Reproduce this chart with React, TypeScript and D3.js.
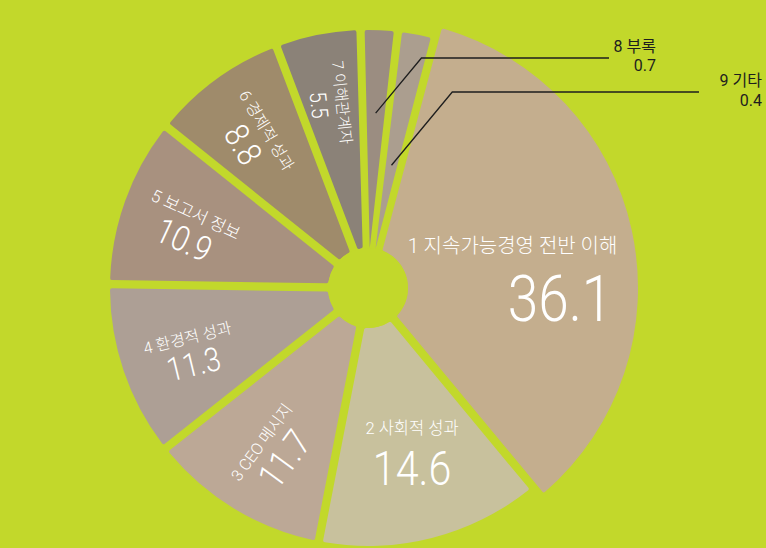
import React from 'react';
import * as d3 from 'd3';

// ---- data ----
const categories = [
  '1 지속가능경영 전반 이해',
  '2 사회적 성과',
  '3 CEO 메시지',
  '4 환경적 성과',
  '5 보고서 정보',
  '6 경제적 성과',
  '7 이해관계자',
  '8 부록',
  '9 기타',
];
const values = [36.1, 14.6, 11.7, 11.3, 10.9, 8.8, 5.5, 0.7, 0.4];
const valueLabels = ['36.1', '14.6', '11.7', '11.3', '10.9', '8.8', '5.5', '0.7', '0.4'];

// ---- styles ----
const sliceColors = ['#c4ae8e', '#c8c19d', '#bca896', '#ad9f95', '#a8917f', '#9f8b6b', '#8b8278', '#9b8d81', '#ab9e8f'];
const titleFontSizes = [20, 16.5, 16, 16, 17, 16, 15.5];
const valueFontSizes = [64, 48, 37, 33, 35, 34, 23];

const W = 766;
const H = 548;
const CX = 368;
const CY = 288;
const R = 258;
const R_MAIN = 270;
const R_INNER = 40;
const START = (15 * Math.PI) / 180;
const MIN_SHARE = 2.4; // display floor so the tiny slices stay visible
const BG = '#c2d82b';
const FONT = "Roboto, 'Noto Sans CJK KR', sans-serif";
const CONDENSE = 0.86;

const toXY = (a: number, r: number): [number, number] => [CX + r * Math.sin(a), CY - r * Math.cos(a)];

export default function App() {
  const pie = d3
    .pie<number>()
    .sort(null)
    .value((v) => Math.max(v, MIN_SHARE))
    .startAngle(START)
    .endAngle(START + 2 * Math.PI);
  const arcs = pie(values);

  const arcGen = d3
    .arc<d3.PieArcDatum<number>>()
    .innerRadius(R_INNER)
    .outerRadius((d) => (d.index === 0 ? R_MAIN : R))
    .padAngle(0.033)
    .padRadius(250)
    .cornerRadius(2);

  const mid = (d: d3.PieArcDatum<number>) => (d.startAngle + d.endAngle) / 2;

  const labels: React.ReactNode[] = [];
  arcs.forEach((d, i) => {
    const m = mid(d);
    if (i === 0) {
      const [px, py] = toXY(m, 200);
      labels.push(
        <g key={'l' + i} fill="#fff" fontFamily={FONT} fontWeight={300}>
          <text x={px + 54} y={py + 8} fontSize={titleFontSizes[i]} textAnchor="end">
            {categories[i]}
          </text>
          <g transform={`translate(${px + 49},${py + 76}) scale(${CONDENSE},1)`}>
            <text x={0} y={0} fontSize={valueFontSizes[i]} textAnchor="end">
              {valueLabels[i]}
            </text>
          </g>
        </g>
      );
    } else if (i === 1) {
      const [px, py] = toXY(m, 178);
      labels.push(
        <g key={'l' + i} fill="#fff" fontFamily={FONT} fontWeight={300}>
          <text x={px} y={py - 26} fontSize={titleFontSizes[i]} textAnchor="middle">
            {categories[i]}
          </text>
          <g transform={`translate(${px},${py + 25}) scale(${CONDENSE},1)`}>
            <text x={0} y={0} fontSize={valueFontSizes[i]} textAnchor="middle">
              {valueLabels[i]}
            </text>
          </g>
        </g>
      );
    } else if (i < 7) {
      const [px, py] = toXY(m, 188);
      const rot = (m * 180) / Math.PI - 265;
      labels.push(
        <g key={'l' + i} transform={`translate(${px},${py}) rotate(${rot})`} fill="#fff" fontFamily={FONT} fontWeight={300}>
          <text x={0} y={-5} fontSize={titleFontSizes[i]} textAnchor="middle">
            {categories[i]}
          </text>
          <g transform={`translate(0,${4 + valueFontSizes[i] * 0.72}) scale(${CONDENSE},1)`}>
            <text x={0} y={0} fontSize={valueFontSizes[i]} textAnchor="middle">
              {valueLabels[i]}
            </text>
          </g>
        </g>
      );
    }
  });

  // leader lines for the two tiny slices
  const leaders = [
    { i: 7, r: 175, elbowY: 58, endX: 609, textX: 656, y1: 52, y2: 71 },
    { i: 8, r: 125, elbowY: 92, endX: 699, textX: 762, y1: 86, y2: 106 },
  ];

  return (
    <svg
      width={W}
      height={H}
      viewBox={`0 0 ${W} ${H}`}
      style={{ position: 'absolute', left: 0, top: 0, display: 'block' }}
    >
      <rect x={0} y={0} width={W} height={H} fill={BG} />
      <g transform={`translate(${CX},${CY})`}>
        {arcs.map((d, i) => (
          <path key={i} d={arcGen(d) || ''} fill={sliceColors[i]} />
        ))}
      </g>
      <circle cx={CX} cy={CY} r={R_INNER} fill={BG} />
      {labels}
      {leaders.map((l) => {
        const d = arcs[l.i];
        const [sx, sy] = toXY(mid(d), l.r);
        const ex = sx + (sy - l.elbowY) * 0.83;
        return (
          <g key={'ld' + l.i}>
            <polyline
              points={`${sx},${sy} ${ex},${l.elbowY} ${l.endX},${l.elbowY}`}
              fill="none"
              stroke="#1e1e1e"
              strokeWidth={1.3}
            />
            <text x={l.textX} y={l.y1} fontSize={16} fontFamily={FONT} fill="#1e1e1e" textAnchor="end">
              {categories[l.i]}
            </text>
            <text x={l.textX} y={l.y2} fontSize={16} fontFamily={FONT} fill="#1e1e1e" textAnchor="end">
              {valueLabels[l.i]}
            </text>
          </g>
        );
      })}
    </svg>
  );
}
